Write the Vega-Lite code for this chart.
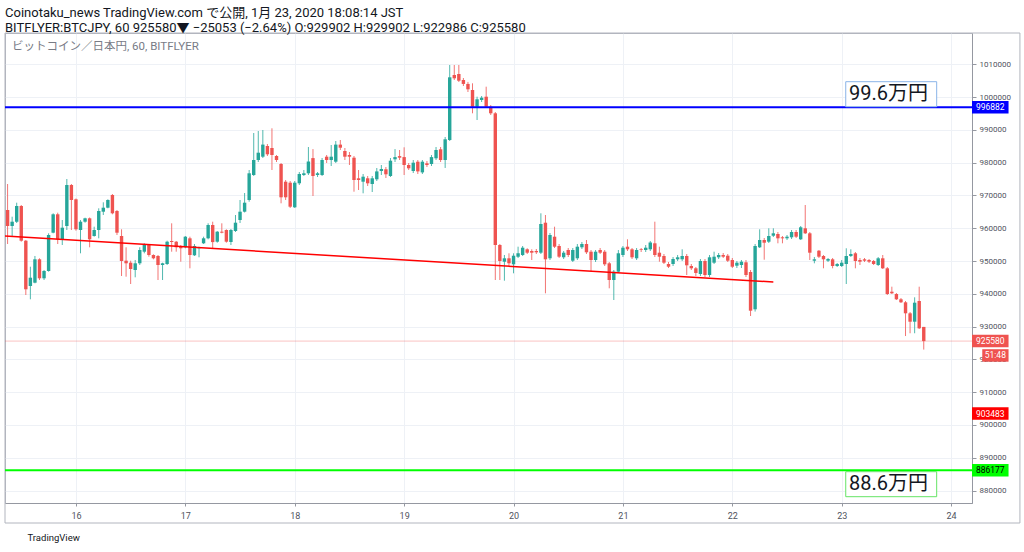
{
  "$schema": "https://vega.github.io/schema/vega-lite/v6.json",
  "width": 967,
  "height": 470,
  "autosize": {"type": "none"},
  "padding": {"left": 5, "top": 33, "right": 52, "bottom": 49},
  "background": "#ffffff",
  "title": {
    "text": "Coinotaku_news TradingView.com で公開, 1月 23, 2020 18:08:14 JST",
    "subtitle": "BITFLYER:BTCJPY, 60 925580▼ −25053 (−2.64%) O:929902 H:929902 L:922986 C:925580",
    "anchor": "start",
    "frame": "group",
    "offset": -2,
    "subtitlePadding": 2
  },
  "datasets": {
    "candles": [
      {"t":"2020-01-15T09:00Z","o":965562,"h":973492,"l":955192,"c":960682},
      {"t":"2020-01-15T10:00Z","o":960682,"h":963519,"l":957419,"c":961994},
      {"t":"2020-01-15T11:00Z","o":961994,"h":967789,"l":961597,"c":966782},
      {"t":"2020-01-15T12:00Z","o":966782,"h":967087,"l":955894,"c":956199},
      {"t":"2020-01-15T13:00Z","o":956199,"h":956412,"l":939637,"c":941376},
      {"t":"2020-01-15T14:00Z","o":942382,"h":948269,"l":938326,"c":944914},
      {"t":"2020-01-15T15:00Z","o":943389,"h":951532,"l":943206,"c":950526},
      {"t":"2020-01-15T16:00Z","o":950526,"h":950831,"l":944212,"c":944731},
      {"t":"2020-01-15T17:00Z","o":944731,"h":947262,"l":944212,"c":946957},
      {"t":"2020-01-15T18:00Z","o":946957,"h":958456,"l":946744,"c":957937},
      {"t":"2020-01-15T19:00Z","o":958639,"h":964556,"l":958456,"c":964251},
      {"t":"2020-01-15T20:00Z","o":964251,"h":964739,"l":955192,"c":956626},
      {"t":"2020-01-15T21:00Z","o":956626,"h":962512,"l":954887,"c":960164},
      {"t":"2020-01-15T22:00Z","o":960682,"h":975017,"l":959462,"c":973187},
      {"t":"2020-01-15T23:00Z","o":973187,"h":973492,"l":959462,"c":968612},
      {"t":"2020-01-16T00:00Z","o":968826,"h":969070,"l":959249,"c":959676},
      {"t":"2020-01-16T01:00Z","o":959462,"h":962512,"l":952356,"c":961994},
      {"t":"2020-01-16T02:00Z","o":961994,"h":963214,"l":961689,"c":963031},
      {"t":"2020-01-16T03:00Z","o":963031,"h":963275,"l":954186,"c":956626},
      {"t":"2020-01-16T04:00Z","o":957632,"h":960469,"l":957419,"c":959462},
      {"t":"2020-01-16T05:00Z","o":959462,"h":966081,"l":956927,"c":965257},
      {"t":"2020-01-16T06:00Z","o":965044,"h":967911,"l":964037,"c":966264},
      {"t":"2020-01-16T07:00Z","o":966264,"h":968826,"l":966081,"c":968612},
      {"t":"2020-01-16T08:00Z","o":970137,"h":970442,"l":964251,"c":964556},
      {"t":"2020-01-16T09:00Z","o":965257,"h":965562,"l":957937,"c":958639},
      {"t":"2020-01-16T10:00Z","o":957632,"h":959676,"l":945432,"c":950007},
      {"t":"2020-01-16T11:00Z","o":950099,"h":954186,"l":945219,"c":949306},
      {"t":"2020-01-16T12:00Z","o":949489,"h":950099,"l":942992,"c":947567},
      {"t":"2020-01-16T13:00Z","o":947262,"h":950312,"l":945036,"c":949306},
      {"t":"2020-01-16T14:00Z","o":949306,"h":954186,"l":948787,"c":953362},
      {"t":"2020-01-16T15:00Z","o":952844,"h":955406,"l":952356,"c":954887},
      {"t":"2020-01-16T16:00Z","o":954887,"h":955192,"l":951319,"c":951837},
      {"t":"2020-01-16T17:00Z","o":951837,"h":952051,"l":950526,"c":950831},
      {"t":"2020-01-16T18:00Z","o":951532,"h":951837,"l":944212,"c":948787},
      {"t":"2020-01-16T19:00Z","o":948787,"h":949489,"l":944212,"c":949306},
      {"t":"2020-01-16T20:00Z","o":949092,"h":956199,"l":948787,"c":955894},
      {"t":"2020-01-16T21:00Z","o":956107,"h":961506,"l":952844,"c":955802},
      {"t":"2020-01-16T22:00Z","o":955894,"h":956107,"l":952844,"c":954186},
      {"t":"2020-01-16T23:00Z","o":954369,"h":954887,"l":949794,"c":953882},
      {"t":"2020-01-17T00:00Z","o":954186,"h":957632,"l":953882,"c":957419},
      {"t":"2020-01-17T01:00Z","o":956927,"h":957419,"l":947780,"c":951837},
      {"t":"2020-01-17T02:00Z","o":951745,"h":955192,"l":951532,"c":954582},
      {"t":"2020-01-17T03:00Z","o":953882,"h":954369,"l":951137,"c":954186},
      {"t":"2020-01-17T04:00Z","o":955406,"h":957419,"l":955192,"c":956927},
      {"t":"2020-01-17T05:00Z","o":956927,"h":961506,"l":956626,"c":960987},
      {"t":"2020-01-17T06:00Z","o":960987,"h":961994,"l":953882,"c":955772},
      {"t":"2020-01-17T07:00Z","o":955894,"h":959157,"l":955589,"c":958944},
      {"t":"2020-01-17T08:00Z","o":958944,"h":961506,"l":958456,"c":958639},
      {"t":"2020-01-17T09:00Z","o":959462,"h":959676,"l":955589,"c":955894},
      {"t":"2020-01-17T10:00Z","o":955802,"h":959767,"l":954887,"c":959462},
      {"t":"2020-01-17T11:00Z","o":959157,"h":964037,"l":958852,"c":961689},
      {"t":"2020-01-17T12:00Z","o":962512,"h":968612,"l":961597,"c":965044},
      {"t":"2020-01-17T13:00Z","o":965044,"h":970747,"l":964800,"c":967789},
      {"t":"2020-01-17T14:00Z","o":968612,"h":977762,"l":968094,"c":976756},
      {"t":"2020-01-17T15:00Z","o":976237,"h":989047,"l":975932,"c":980812},
      {"t":"2020-01-17T16:00Z","o":980812,"h":989657,"l":980202,"c":983039},
      {"t":"2020-01-17T17:00Z","o":981819,"h":989962,"l":981422,"c":985506},
      {"t":"2020-01-17T18:00Z","o":985082,"h":985692,"l":982032,"c":982551},
      {"t":"2020-01-17T19:00Z","o":984472,"h":990481,"l":977762,"c":982337},
      {"t":"2020-01-17T20:00Z","o":982032,"h":982337,"l":980202,"c":980812},
      {"t":"2020-01-17T21:00Z","o":979592,"h":979897,"l":967606,"c":969436},
      {"t":"2020-01-17T22:00Z","o":974194,"h":974712,"l":968612,"c":969436},
      {"t":"2020-01-17T23:00Z","o":973890,"h":974407,"l":966172,"c":966569},
      {"t":"2020-01-18T00:00Z","o":966386,"h":974407,"l":966172,"c":973890},
      {"t":"2020-01-18T01:00Z","o":973706,"h":977152,"l":973187,"c":976542},
      {"t":"2020-01-18T02:00Z","o":976237,"h":977762,"l":975932,"c":976756},
      {"t":"2020-01-18T03:00Z","o":976756,"h":984777,"l":976237,"c":980355},
      {"t":"2020-01-18T04:00Z","o":981392,"h":984137,"l":969832,"c":975932},
      {"t":"2020-01-18T05:00Z","o":976237,"h":977152,"l":975627,"c":976756},
      {"t":"2020-01-18T06:00Z","o":976237,"h":981422,"l":975932,"c":980812},
      {"t":"2020-01-18T07:00Z","o":981819,"h":982337,"l":979897,"c":980812},
      {"t":"2020-01-18T08:00Z","o":980812,"h":985387,"l":978982,"c":981819},
      {"t":"2020-01-18T09:00Z","o":980294,"h":986607,"l":979897,"c":985506},
      {"t":"2020-01-18T10:00Z","o":985506,"h":986912,"l":983862,"c":984564},
      {"t":"2020-01-18T11:00Z","o":983557,"h":984472,"l":980812,"c":981819},
      {"t":"2020-01-18T12:00Z","o":982337,"h":983252,"l":979287,"c":981819},
      {"t":"2020-01-18T13:00Z","o":981514,"h":982032,"l":971144,"c":974712},
      {"t":"2020-01-18T14:00Z","o":975231,"h":977762,"l":971662,"c":974712},
      {"t":"2020-01-18T15:00Z","o":974194,"h":976542,"l":970656,"c":975719},
      {"t":"2020-01-18T16:00Z","o":975231,"h":975932,"l":972882,"c":973706},
      {"t":"2020-01-18T17:00Z","o":973492,"h":975932,"l":971052,"c":975231},
      {"t":"2020-01-18T18:00Z","o":974926,"h":978372,"l":974407,"c":977335},
      {"t":"2020-01-18T19:00Z","o":977457,"h":979287,"l":976237,"c":978067},
      {"t":"2020-01-18T20:00Z","o":977976,"h":978677,"l":975322,"c":976451},
      {"t":"2020-01-18T21:00Z","o":975932,"h":981422,"l":975627,"c":980599},
      {"t":"2020-01-18T22:00Z","o":981026,"h":984137,"l":980202,"c":981697},
      {"t":"2020-01-18T23:00Z","o":982002,"h":983862,"l":980812,"c":981514},
      {"t":"2020-01-19T00:00Z","o":981697,"h":984686,"l":976237,"c":979287},
      {"t":"2020-01-19T01:00Z","o":979287,"h":979897,"l":977762,"c":978281},
      {"t":"2020-01-19T02:00Z","o":977457,"h":980812,"l":976847,"c":979989},
      {"t":"2020-01-19T03:00Z","o":980294,"h":980812,"l":976542,"c":977335},
      {"t":"2020-01-19T04:00Z","o":977030,"h":980812,"l":976542,"c":980294},
      {"t":"2020-01-19T05:00Z","o":979805,"h":980507,"l":978677,"c":979287},
      {"t":"2020-01-19T06:00Z","o":979592,"h":982337,"l":978982,"c":981697},
      {"t":"2020-01-19T07:00Z","o":981331,"h":984777,"l":980812,"c":983862},
      {"t":"2020-01-19T08:00Z","o":984076,"h":984777,"l":980202,"c":980812},
      {"t":"2020-01-19T09:00Z","o":980812,"h":987827,"l":978386,"c":987126},
      {"t":"2020-01-19T10:00Z","o":986912,"h":1009787,"l":986607,"c":1006036},
      {"t":"2020-01-19T11:00Z","o":1006737,"h":1009787,"l":1005212,"c":1005731},
      {"t":"2020-01-19T12:00Z","o":1007042,"h":1009787,"l":1004602,"c":1004998},
      {"t":"2020-01-19T13:00Z","o":1005212,"h":1005822,"l":1003382,"c":1004012},
      {"t":"2020-01-19T14:00Z","o":1004012,"h":1004622,"l":1001552,"c":1002376},
      {"t":"2020-01-19T15:00Z","o":1002162,"h":1004206,"l":995056,"c":997068},
      {"t":"2020-01-19T16:00Z","o":997068,"h":1000118,"l":993012,"c":999326},
      {"t":"2020-01-19T17:00Z","o":999112,"h":1000332,"l":998502,"c":999814},
      {"t":"2020-01-19T18:00Z","o":1000118,"h":1003168,"l":996672,"c":997068},
      {"t":"2020-01-19T19:00Z","o":997068,"h":997587,"l":994537,"c":995056},
      {"t":"2020-01-19T20:00Z","o":995056,"h":995452,"l":944212,"c":954887},
      {"t":"2020-01-19T21:00Z","o":954887,"h":955192,"l":944212,"c":950007},
      {"t":"2020-01-19T22:00Z","o":949794,"h":951837,"l":944000,"c":950831},
      {"t":"2020-01-19T23:00Z","o":950831,"h":952356,"l":948269,"c":949306},
      {"t":"2020-01-20T00:00Z","o":948996,"h":952356,"l":946254,"c":951624},
      {"t":"2020-01-20T01:00Z","o":951319,"h":954369,"l":950922,"c":952356},
      {"t":"2020-01-20T02:00Z","o":951837,"h":954582,"l":951532,"c":954064},
      {"t":"2020-01-20T03:00Z","o":953576,"h":953882,"l":952142,"c":952539},
      {"t":"2020-01-20T04:00Z","o":953057,"h":953576,"l":950312,"c":952539},
      {"t":"2020-01-20T05:00Z","o":953057,"h":953667,"l":952142,"c":952661},
      {"t":"2020-01-20T06:00Z","o":952539,"h":964556,"l":952142,"c":961292},
      {"t":"2020-01-20T07:00Z","o":961689,"h":964037,"l":940156,"c":950526},
      {"t":"2020-01-20T08:00Z","o":950831,"h":958547,"l":950312,"c":957937},
      {"t":"2020-01-20T09:00Z","o":957419,"h":960469,"l":953972,"c":954369},
      {"t":"2020-01-20T10:00Z","o":954582,"h":955192,"l":950922,"c":951319},
      {"t":"2020-01-20T11:00Z","o":951137,"h":953057,"l":950617,"c":952539},
      {"t":"2020-01-20T12:00Z","o":953362,"h":953972,"l":951227,"c":951837},
      {"t":"2020-01-20T13:00Z","o":950099,"h":953972,"l":949702,"c":953362},
      {"t":"2020-01-20T14:00Z","o":950831,"h":955192,"l":950312,"c":954369},
      {"t":"2020-01-20T15:00Z","o":954186,"h":955802,"l":953667,"c":955192},
      {"t":"2020-01-20T16:00Z","o":955192,"h":956412,"l":952142,"c":952661},
      {"t":"2020-01-20T17:00Z","o":952844,"h":953362,"l":946744,"c":950312},
      {"t":"2020-01-20T18:00Z","o":950312,"h":953362,"l":949702,"c":952844},
      {"t":"2020-01-20T19:00Z","o":953362,"h":953972,"l":952142,"c":952539},
      {"t":"2020-01-20T20:00Z","o":952844,"h":953362,"l":948482,"c":948996},
      {"t":"2020-01-20T21:00Z","o":949306,"h":949702,"l":941681,"c":944212},
      {"t":"2020-01-20T22:00Z","o":944212,"h":947262,"l":938112,"c":946744},
      {"t":"2020-01-20T23:00Z","o":946744,"h":953362,"l":946347,"c":952356},
      {"t":"2020-01-21T00:00Z","o":951837,"h":954582,"l":951227,"c":954064},
      {"t":"2020-01-21T01:00Z","o":954369,"h":956626,"l":953057,"c":953576},
      {"t":"2020-01-21T02:00Z","o":953576,"h":953972,"l":950617,"c":951137},
      {"t":"2020-01-21T03:00Z","o":950831,"h":953972,"l":950312,"c":953362},
      {"t":"2020-01-21T04:00Z","o":953576,"h":953972,"l":952752,"c":953362},
      {"t":"2020-01-21T05:00Z","o":953362,"h":954887,"l":952752,"c":954064},
      {"t":"2020-01-21T06:00Z","o":953576,"h":956107,"l":953057,"c":955650},
      {"t":"2020-01-21T07:00Z","o":955406,"h":961994,"l":951227,"c":951837},
      {"t":"2020-01-21T08:00Z","o":952539,"h":954369,"l":949794,"c":951319},
      {"t":"2020-01-21T09:00Z","o":951532,"h":952142,"l":949092,"c":949489},
      {"t":"2020-01-21T10:00Z","o":949092,"h":949702,"l":947872,"c":948269},
      {"t":"2020-01-21T11:00Z","o":949092,"h":951227,"l":948482,"c":950617},
      {"t":"2020-01-21T12:00Z","o":950526,"h":951837,"l":949997,"c":951137},
      {"t":"2020-01-21T13:00Z","o":950526,"h":953576,"l":949997,"c":951532},
      {"t":"2020-01-21T14:00Z","o":951532,"h":952142,"l":945737,"c":948696},
      {"t":"2020-01-21T15:00Z","o":948482,"h":949092,"l":947262,"c":947780},
      {"t":"2020-01-21T16:00Z","o":947780,"h":948177,"l":945432,"c":946356},
      {"t":"2020-01-21T17:00Z","o":946042,"h":950617,"l":945432,"c":950007},
      {"t":"2020-01-21T18:00Z","o":950007,"h":950617,"l":945127,"c":945737},
      {"t":"2020-01-21T19:00Z","o":945737,"h":951837,"l":945127,"c":951137},
      {"t":"2020-01-21T20:00Z","o":949489,"h":952844,"l":949092,"c":951319},
      {"t":"2020-01-21T21:00Z","o":951137,"h":952447,"l":950617,"c":951837},
      {"t":"2020-01-21T22:00Z","o":951837,"h":952447,"l":950922,"c":951319},
      {"t":"2020-01-21T23:00Z","o":951624,"h":952142,"l":949702,"c":950099},
      {"t":"2020-01-22T00:00Z","o":950312,"h":950922,"l":947872,"c":948269},
      {"t":"2020-01-22T01:00Z","o":948574,"h":950007,"l":947872,"c":949489},
      {"t":"2020-01-22T02:00Z","o":948787,"h":950312,"l":947872,"c":949794},
      {"t":"2020-01-22T03:00Z","o":949611,"h":950312,"l":945127,"c":945737},
      {"t":"2020-01-22T04:00Z","o":946652,"h":947262,"l":933232,"c":934849},
      {"t":"2020-01-22T05:00Z","o":935276,"h":955192,"l":934582,"c":954582},
      {"t":"2020-01-22T06:00Z","o":954186,"h":959676,"l":953972,"c":956412},
      {"t":"2020-01-22T07:00Z","o":956412,"h":957022,"l":950404,"c":955589},
      {"t":"2020-01-22T08:00Z","o":955894,"h":959981,"l":955497,"c":957632},
      {"t":"2020-01-22T09:00Z","o":957724,"h":959981,"l":957327,"c":958456},
      {"t":"2020-01-22T10:00Z","o":958242,"h":958852,"l":955406,"c":956927},
      {"t":"2020-01-22T11:00Z","o":957236,"h":957632,"l":955406,"c":956927},
      {"t":"2020-01-22T12:00Z","o":956927,"h":957937,"l":956412,"c":957419},
      {"t":"2020-01-22T13:00Z","o":957236,"h":959462,"l":956717,"c":958852},
      {"t":"2020-01-22T14:00Z","o":958852,"h":959462,"l":957022,"c":957419},
      {"t":"2020-01-22T15:00Z","o":956626,"h":960682,"l":956412,"c":960286},
      {"t":"2020-01-22T16:00Z","o":959981,"h":967087,"l":958242,"c":958456},
      {"t":"2020-01-22T17:00Z","o":958456,"h":958852,"l":950312,"c":952539},
      {"t":"2020-01-22T18:00Z","o":950099,"h":951227,"l":949306,"c":950526},
      {"t":"2020-01-22T19:00Z","o":953149,"h":953362,"l":950922,"c":951319},
      {"t":"2020-01-22T20:00Z","o":951532,"h":951837,"l":947780,"c":950526},
      {"t":"2020-01-22T21:00Z","o":950099,"h":950922,"l":949702,"c":950617},
      {"t":"2020-01-22T22:00Z","o":950526,"h":950922,"l":947780,"c":948482},
      {"t":"2020-01-22T23:00Z","o":948482,"h":949397,"l":948177,"c":949092},
      {"t":"2020-01-23T00:00Z","o":948482,"h":950312,"l":948177,"c":949489},
      {"t":"2020-01-23T01:00Z","o":949092,"h":953882,"l":942992,"c":951532},
      {"t":"2020-01-23T02:00Z","o":951532,"h":953576,"l":951227,"c":952142},
      {"t":"2020-01-23T03:00Z","o":952356,"h":952752,"l":947780,"c":950007},
      {"t":"2020-01-23T04:00Z","o":950312,"h":950922,"l":948787,"c":949794},
      {"t":"2020-01-23T05:00Z","o":950526,"h":950922,"l":949702,"c":950099},
      {"t":"2020-01-23T06:00Z","o":950312,"h":950617,"l":949397,"c":949794},
      {"t":"2020-01-23T07:00Z","o":950007,"h":950312,"l":948787,"c":949092},
      {"t":"2020-01-23T08:00Z","o":948787,"h":951227,"l":948482,"c":950831},
      {"t":"2020-01-23T09:00Z","o":950831,"h":951837,"l":947567,"c":947780},
      {"t":"2020-01-23T10:00Z","o":947780,"h":948177,"l":939637,"c":939942},
      {"t":"2020-01-23T11:00Z","o":940644,"h":942169,"l":939942,"c":940156},
      {"t":"2020-01-23T12:00Z","o":939942,"h":940247,"l":938112,"c":938326},
      {"t":"2020-01-23T13:00Z","o":938326,"h":938722,"l":937197,"c":937411},
      {"t":"2020-01-23T14:00Z","o":937411,"h":937807,"l":927119,"c":934056},
      {"t":"2020-01-23T15:00Z","o":934056,"h":934452,"l":927967,"c":931493},
      {"t":"2020-01-23T16:00Z","o":931493,"h":938936,"l":927967,"c":937289},
      {"t":"2020-01-23T17:00Z","o":937807,"h":942169,"l":929267,"c":929481},
      {"t":"2020-01-23T18:00Z","o":929902,"h":929902,"l":922986,"c":925580}
    ],
    "trend": [
      {"t":"2020-01-15T08:26Z","p":957600},
      {"t":"2020-01-22T09:00Z","p":943600}
    ],
    "levels": [
      {"kind":"resistance","price":996882},
      {"kind":"support","price":886177},
      {"kind":"last","price":925580}
    ],
    "tags": [
      {"kind":"resistance","price":996882,"label":"996882"},
      {"kind":"last","price":925580,"label":"925580"},
      {"kind":"timer","price":921200,"label":"51:48"},
      {"kind":"alert","price":903483,"label":"903483"},
      {"kind":"support","price":886177,"label":"886177"}
    ],
    "notes": [
      {"kind":"resistance","text":"99.6万円","t0":"2020-01-23T00:53Z","t1":"2020-01-23T20:50Z","tx":"2020-01-23T01:36Z","lo":997068,"hi":1004693,"mid":1000880},
      {"kind":"support","text":"88.6万円","t0":"2020-01-23T00:53Z","t1":"2020-01-23T20:50Z","tx":"2020-01-23T01:36Z","lo":878118,"hi":885743,"mid":881930}
    ],
    "caption": [
      {"t":"2020-01-15T09:58Z","p":1015277,"text":"ビットコイン／日本円, 60, BITFLYER"}
    ]
  },
  "layer": [
    {
      "data": {"values": [{}]},
      "mark": {"type": "rect", "filled": false, "stroke": "#b2b5be", "strokeWidth": 1},
      "encoding": {
        "x": {"datum": {"year": 2020, "month": 1, "date": 15, "hours": 8, "minutes": 26, "utc": true}, "type": "temporal"},
        "x2": {"datum": {"year": 2020, "month": 1, "date": 24, "hours": 15, "minutes": 6, "utc": true}},
        "y": {"datum": 1019547, "type": "quantitative"},
        "y2": {"datum": 870097}
      }
    },
    {
      "data": {"name": "candles"},
      "mark": {"type": "rule", "strokeWidth": 1, "opacity": 0.8},
      "encoding": {
        "x": {
          "field": "t", "type": "temporal",
          "scale": {"type": "utc", "nice": false, "padding": 0, "domain": [
            {"year": 2020, "month": 1, "date": 15, "hours": 8, "minutes": 26, "utc": true},
            {"year": 2020, "month": 1, "date": 24, "hours": 4, "minutes": 35, "utc": true}
          ]},
          "axis": {
            "values": [
              {"year": 2020, "month": 1, "date": 16, "utc": true},
              {"year": 2020, "month": 1, "date": 17, "utc": true},
              {"year": 2020, "month": 1, "date": 18, "utc": true},
              {"year": 2020, "month": 1, "date": 19, "utc": true},
              {"year": 2020, "month": 1, "date": 20, "utc": true},
              {"year": 2020, "month": 1, "date": 21, "utc": true},
              {"year": 2020, "month": 1, "date": 22, "utc": true},
              {"year": 2020, "month": 1, "date": 23, "utc": true},
              {"year": 2020, "month": 1, "date": 24, "utc": true}
            ],
            "format": "%-d",
            "labelFontSize": 9,
            "labelPadding": 5,
            "tickSize": 3,
            "labelFlush": false,
            "labelOverlap": false,
            "title": "TradingView",
            "titleFontSize": 9.5,
            "titleFontWeight": "normal",
            "titleColor": "#131722",
            "titleAnchor": "start",
            "titleAlign": "left",
            "titleBaseline": "middle",
            "titleX": 22,
            "titleY": 34
          }
        },
        "y": {
          "field": "l", "type": "quantitative",
          "scale": {"domain": [876197, 1019547], "nice": false, "zero": false, "padding": 0},
          "axis": {
            "orient": "right",
            "values": [880000, 890000, 900000, 910000, 920000, 930000, 940000, 950000, 960000, 970000, 980000, 990000, 1000000, 1010000],
            "tickCount": 15,
            "format": "d",
            "labelFontSize": 8,
            "labelPadding": 3,
            "labelOverlap": false,
            "labelFlush": false,
            "labelBound": false,
            "tickSize": 4,
            "title": null
          }
        },
        "y2": {"field": "h"},
        "color": {"condition": {"test": "datum.c >= datum.o", "value": "#26a69a"}, "value": "#ef5350"}
      }
    },
    {
      "data": {"name": "candles"},
      "mark": {"type": "bar", "width": 3.4},
      "encoding": {
        "x": {"field": "t", "type": "temporal"},
        "y": {"field": "o", "type": "quantitative"},
        "y2": {"field": "c"},
        "color": {"condition": {"test": "datum.c >= datum.o", "value": "#26a69a"}, "value": "#ef5350"}
      }
    },
    {
      "data": {"name": "levels"},
      "transform": [{"filter": "datum.kind != 'last'"}],
      "mark": {"type": "rule", "strokeWidth": 2},
      "encoding": {
        "y": {"field": "price", "type": "quantitative"},
        "color": {"field": "kind", "type": "nominal", "legend": null,
          "scale": {"domain": ["resistance", "last", "timer", "alert", "support"], "range": ["#0000ff", "#ef5350", "#ef5350", "#ff0000", "#00ff00"]}}
      }
    },
    {
      "data": {"name": "levels"},
      "transform": [{"filter": "datum.kind == 'last'"}],
      "mark": {"type": "rule", "strokeWidth": 1, "opacity": 0.35},
      "encoding": {
        "y": {"field": "price", "type": "quantitative"},
        "color": {"field": "kind", "type": "nominal", "legend": null}
      }
    },
    {
      "data": {"name": "trend"},
      "mark": {"type": "line", "color": "#ff0000", "strokeWidth": 1.5},
      "encoding": {
        "x": {"field": "t", "type": "temporal"},
        "y": {"field": "p", "type": "quantitative"}
      }
    },
    {
      "data": {"name": "notes"},
      "mark": {"type": "rect", "fill": "#ffffff", "strokeWidth": 1},
      "encoding": {
        "x": {"field": "t0", "type": "temporal"},
        "x2": {"field": "t1"},
        "y": {"field": "lo", "type": "quantitative"},
        "y2": {"field": "hi"},
        "stroke": {"field": "kind", "type": "nominal", "legend": null,
          "scale": {"domain": ["resistance", "support"], "range": ["#8ab4e8", "#66e466"]}}
      }
    },
    {
      "data": {"name": "notes"},
      "mark": {"type": "text", "align": "left", "baseline": "middle", "fontSize": 20, "color": "#131722"},
      "encoding": {
        "x": {"field": "tx", "type": "temporal"},
        "y": {"field": "mid", "type": "quantitative"},
        "text": {"field": "text"}
      }
    },
    {
      "data": {"name": "caption"},
      "mark": {"type": "text", "align": "left", "baseline": "middle", "fontSize": 11.5, "color": "#787b86"},
      "encoding": {
        "x": {"field": "t", "type": "temporal"},
        "y": {"field": "p", "type": "quantitative"},
        "text": {"field": "text"}
      }
    },
    {
      "data": {"name": "tags"},
      "transform": [{"filter": "datum.kind != 'timer'"}],
      "mark": {"type": "bar", "height": 12.5},
      "encoding": {
        "x": {"datum": {"year": 2020, "month": 1, "date": 24, "hours": 4, "minutes": 35, "utc": true}, "type": "temporal"},
        "x2": {"datum": {"year": 2020, "month": 1, "date": 24, "hours": 12, "minutes": 36, "utc": true}},
        "y": {"field": "price", "type": "quantitative"},
        "color": {"field": "kind", "type": "nominal", "legend": null}
      }
    },
    {
      "data": {"name": "tags"},
      "transform": [{"filter": "datum.kind == 'timer'"}],
      "mark": {"type": "bar", "height": 12.5},
      "encoding": {
        "x": {"datum": {"year": 2020, "month": 1, "date": 24, "hours": 6, "minutes": 50, "utc": true}, "type": "temporal"},
        "x2": {"datum": {"year": 2020, "month": 1, "date": 24, "hours": 12, "minutes": 36, "utc": true}},
        "y": {"field": "price", "type": "quantitative"},
        "color": {"field": "kind", "type": "nominal", "legend": null}
      }
    },
    {
      "data": {"name": "tags"},
      "transform": [{"filter": "datum.kind != 'timer'"}],
      "mark": {"type": "text", "align": "center", "baseline": "middle", "fontSize": 8.5},
      "encoding": {
        "x": {"datum": {"year": 2020, "month": 1, "date": 24, "hours": 8, "minutes": 36, "utc": true}, "type": "temporal"},
        "y": {"field": "price", "type": "quantitative"},
        "text": {"field": "label"},
        "color": {"condition": {"test": "datum.kind == 'support'", "value": "#000000"}, "value": "#ffffff"}
      }
    },
    {
      "data": {"name": "tags"},
      "transform": [{"filter": "datum.kind == 'timer'"}],
      "mark": {"type": "text", "align": "center", "baseline": "middle", "fontSize": 8.5},
      "encoding": {
        "x": {"datum": {"year": 2020, "month": 1, "date": 24, "hours": 9, "minutes": 42, "utc": true}, "type": "temporal"},
        "y": {"field": "price", "type": "quantitative"},
        "text": {"field": "label"},
        "color": {"value": "#ffffff"}
      }
    }
  ],
  "config": {
    "font": "Roboto, Noto Sans CJK JP, sans-serif",
    "view": {"stroke": "#b2b5be", "strokeWidth": 1},
    "axis": {
      "grid": true,
      "gridColor": "#eef1f6",
      "gridWidth": 1,
      "domainColor": "#9598a1",
      "tickColor": "#9598a1",
      "labelColor": "#50535e",
      "labelOverlap": false,
      "labelFont": "Roboto, sans-serif"
    },
    "axisY": {"labelOverlap": false, "tickCount": 15},
    "title": {
      "font": "Roboto, Noto Sans CJK JP, sans-serif",
      "fontSize": 13,
      "fontWeight": "normal",
      "color": "#131722",
      "subtitleFont": "Roboto, Noto Sans CJK JP, sans-serif",
      "subtitleFontSize": 13,
      "subtitleColor": "#131722"
    }
  }
}
